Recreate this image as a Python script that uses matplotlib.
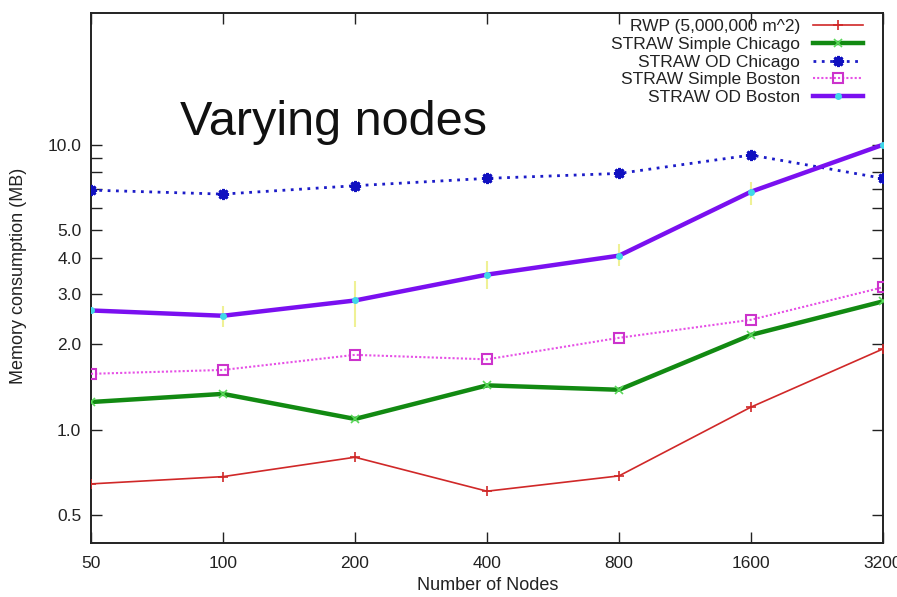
import matplotlib
matplotlib.use("Agg")
import matplotlib.pyplot as plt
from matplotlib.ticker import FixedLocator, FixedFormatter, NullLocator

plt.rcParams['font.family'] = ['Liberation Sans', 'DejaVu Sans']

nodes = [50, 100, 200, 400, 800, 1600, 3200]
node_labels = ["50", "100", "200", "400", "800", "1600", "3200"]

rwp = [0.645, 0.684, 0.80, 0.608, 0.688, 1.20, 1.92]
simple_chicago = [1.25, 1.335, 1.09, 1.43, 1.38, 2.15, 2.82]
od_chicago = [6.93, 6.71, 7.18, 7.62, 7.93, 9.20, 7.62]
simple_boston = [1.57, 1.62, 1.83, 1.765, 2.10, 2.43, 3.16]
od_boston = [2.62, 2.51, 2.84, 3.50, 4.08, 6.84, 10.0]
od_boston_low = [2.58, 2.29, 2.29, 3.12, 3.76, 6.12, 9.9]
od_boston_high = [2.66, 2.72, 3.33, 3.91, 4.48, 7.39, 10.1]

y_ticks = [0.5, 1.0, 2.0, 3.0, 4.0, 5.0, 6.0, 7.0, 8.0, 9.0, 10.0]
y_tick_labels = ["0.5", "1.0", "2.0", "3.0", "4.0", "5.0", "", "", "", "", "10.0"]

W, H = 897, 597
fig = plt.figure(figsize=(W/100, H/100), dpi=100)
ax = fig.add_axes([91/W, 1-543/H, (883-91)/W, (543-13)/H])

ax.set_xscale('log', base=2)
ax.set_yscale('log')

# faint error bars for OD Boston
yerr = [[v - lo for v, lo in zip(od_boston, od_boston_low)],
        [hi - v for v, hi in zip(od_boston, od_boston_high)]]
ax.errorbar(nodes, od_boston, yerr=yerr, fmt='none', ecolor='#eef08a',
            elinewidth=1.5, capsize=0, alpha=0.9, zorder=1)

ax.plot(nodes, rwp, color='#d02828', lw=1.2, marker='+', ms=7, mew=1.2,
        label='RWP (5,000,000 m^2)', zorder=3)
ax.plot(nodes, simple_chicago, color='#128a12', lw=3.2, marker='x', ms=6,
        mew=1.2, mec='#5ad85a', label='STRAW Simple Chicago', zorder=3)
ax.plot(nodes, od_chicago, color='#1c1cc8', lw=2.0, ls=(0, (1, 2)),
        marker=(8, 2, 0), ms=8, mew=2.0, mec='#1010c0',
        label='STRAW OD Chicago', zorder=3)
ax.plot(nodes, simple_boston, color='#e650e6', lw=1.5, ls=(0, (1, 1)),
        marker='s', ms=6.5, mfc='none', mew=1.5, mec='#cc33cc',
        label='STRAW Simple Boston', zorder=3)
ax.plot(nodes, od_boston, color='#7a10f0', lw=3.2, marker='o', ms=4,
        mfc='#40d8e8', mec='#40d8e8', label='STRAW OD Boston', zorder=4)

ax.set_xlim(50, 3200)
ax.set_ylim(0.4, 29)

ax.xaxis.set_major_locator(FixedLocator(nodes))
ax.xaxis.set_major_formatter(FixedFormatter(node_labels))
ax.xaxis.set_minor_locator(NullLocator())
ax.yaxis.set_major_locator(FixedLocator(y_ticks))
ax.yaxis.set_major_formatter(FixedFormatter(y_tick_labels))
ax.yaxis.set_minor_locator(NullLocator())

ax.tick_params(axis='both', which='major', direction='in', length=8,
               width=1.0, top=True, right=True, labelsize=12.5,
               colors='#222222')
ax.tick_params(axis='x', pad=9)
ax.tick_params(axis='y', pad=7)
for sp in ax.spines.values():
    sp.set_linewidth(1.4)
    sp.set_color('#222222')

ax.set_xlabel('Number of Nodes', fontsize=13, color='#222222')
ax.xaxis.set_label_coords((488-91)/792, (543-577)/530)
ax.set_ylabel('Memory consumption (MB)', fontsize=13, color='#222222')
ax.yaxis.set_label_coords((27-91)/792, (543-275.5)/530)

ax.text(333/W, 1-135/H, 'Varying nodes', transform=fig.transFigure,
        fontsize=35, ha='center', va='baseline', color='#111111')

leg = ax.legend(loc='upper right', markerfirst=False, frameon=False,
                fontsize=12.5, handlelength=2.88, labelspacing=0.15,
                borderaxespad=0, borderpad=0, handletextpad=0.75, numpoints=1,
                bbox_to_anchor=(863/W, 1-19/H), bbox_transform=fig.transFigure)
for t in leg.get_texts():
    t.set_color('#222222')

fig.savefig('out.png', dpi=100, facecolor='white')
